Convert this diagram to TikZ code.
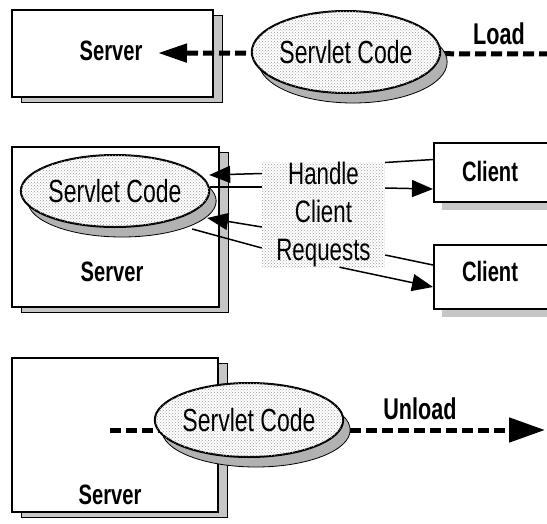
\documentclass[tikz,border=0pt]{standalone}
\usepackage{fontspec}
\setmainfont{Liberation Sans}
\newfontfamily\narrowfont[FakeStretch=0.72]{Liberation Sans}
\usetikzlibrary{shapes.geometric,arrows.meta,shadows,patterns}
\begin{document}
\begin{tikzpicture}[x=1pt,y=-1pt,
  texture/.style={fill=white, postaction={pattern=crosshatch dots, pattern color=gray!75}},
  srvbox/.style={draw, line width=2pt, fill=white, inner sep=0pt,
    general shadow={fill=gray!45, draw=black, line width=1pt, shadow xshift=9pt, shadow yshift=-5pt}},
  clbox/.style={draw, line width=2pt, fill=white, inner sep=0pt,
    general shadow={fill=gray!45, shadow xshift=8pt, shadow yshift=-8pt}},
  codeell/.style={ellipse, draw, line width=2pt, texture, inner sep=0pt,
    font=\narrowfont\fontsize{32}{34}\selectfont,
    general shadow={fill=gray!60, draw=black, line width=0.8pt, shadow xshift=7pt, shadow yshift=-10pt}},
  hcrbox/.style={texture, inner sep=0pt, align=center,
    font=\narrowfont\fontsize{31}{38}\selectfont},
  lbl/.style={inner sep=0pt, font=\narrowfont\bfseries\fontsize{28}{30}\selectfont},
  biglbl/.style={inner sep=0pt, font=\narrowfont\bfseries\fontsize{30}{32}\selectfont},
  dashline/.style={line width=5pt, dash pattern=on 11pt off 5pt},
  conn/.style={line width=1.5pt},
  arr/.style={conn, -{Triangle[length=21pt,width=17pt]}}
]
\useasboundingbox (0,0) rectangle (547,523);
\clip (0,0) rectangle (547,523);

% ---------- Load ----------
\node[srvbox, minimum width=201pt, minimum height=87pt] (b1) at (112.5,53.5) {};
\node[lbl] (t1) at (111,51) {Server};
\coordinate (loadin) at (550,54);
\coordinate (loadtip) at (158,53);
\draw[dashline, -{Triangle[length=29pt,width=18pt]}] (loadin) -- (loadtip);
\node[codeell, minimum width=172pt, minimum height=82pt] (e1) at (346,52) {Servlet Code};
\node[biglbl] (load) at (499,34) {Load};

% ---------- Handle ----------
\node[srvbox, minimum width=207pt, minimum height=160pt] (b2) at (115.5,227) {};
\node[lbl] (t2) at (112,272) {Server};
\node[codeell, minimum width=176pt, minimum height=72pt] (e2) at (115,191) {Servlet Code};
\node[hcrbox, minimum width=123pt, minimum height=105pt] (hcr) at (323.5,214.5) {Handle\\Client\\Requests};
\node[clbox, minimum width=166pt, minimum height=59pt] (c1) at (517,172.5) {};
\node[lbl] (ct1) at (490,171) {Client};
\node[clbox, minimum width=166pt, minimum height=64pt] (c2) at (517,277) {};
\node[lbl] (ct2) at (490,271) {Client};

\draw[conn] ([shift={(0,-13)}]c1.west) -- ([shift={(0,-52)}]hcr.east);
\draw[arr] ([shift={(0,-41)}]hcr.west) -- ([shift={(-1,-16)}]e2.east);
\draw[conn] ([shift={(0,-4)}]e2.east) -- ([shift={(0,-27.5)}]hcr.west);
\draw[arr] ([shift={(0,-26.5)}]hcr.east) -- ([shift={(0,16.5)}]c1.west);
\draw[arr] ([shift={(0,12.5)}]hcr.west) -- ([shift={(-3,27)}]e2.east);
\draw[conn] ([shift={(-18,38)}]e2.east) -- ([shift={(0,33.5)}]hcr.west);
\draw[conn] ([shift={(0,-12)}]c2.west) -- ([shift={(0,40.5)}]hcr.east);
\draw[arr] ([shift={(16,0)}]hcr.south) -- ([shift={(0,10)}]c2.west);

% ---------- Unload ----------
\node[srvbox, minimum width=206pt, minimum height=154pt] (b3) at (115,435) {};
\node[lbl] (t3) at (110,495) {Server};
\coordinate (ustart) at (110,430);
\coordinate (uend) at (545,430);
\draw[dashline, -{Triangle[length=36pt,width=24pt]}] (ustart) -- (uend);
\node[codeell, minimum width=174pt, minimum height=74pt] (e3) at (249,420) {Servlet Code};
\node[biglbl] (unload) at (420,409) {Unload};
\end{tikzpicture}
\end{document}
